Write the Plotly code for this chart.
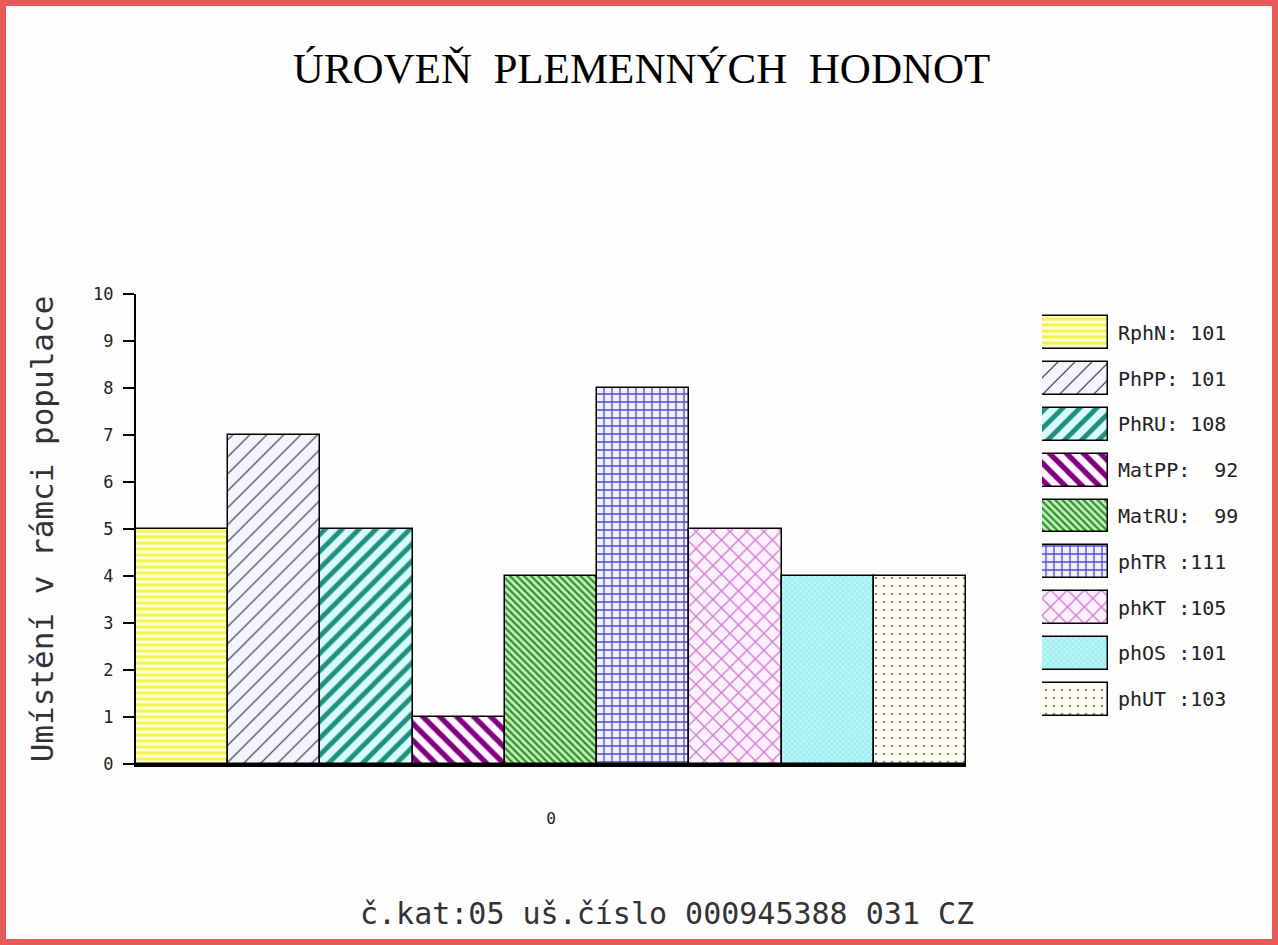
import plotly.graph_objects as go

# ---- data ----
series_names = ["RphN", "PhPP", "PhRU", "MatPP", "MatRU", "phTR", "phKT", "phOS", "phUT"]
legend_labels = ["RphN: 101", "PhPP: 101", "PhRU: 108", "MatPP:  92", "MatRU:  99",
                 "phTR :111", "phKT :105", "phOS :101", "phUT :103"]
values = [5, 7, 5, 1, 4, 8, 5, 4, 4]
x_category = ["0"]
y_ticks = list(range(0, 11))

title_text = "ÚROVEŇ\u00a0\u00a0PLEMENNÝCH\u00a0\u00a0HODNOT"
y_title = "Umístění v rámci populace"
footer_text = "č.kat:05 uš.číslo 000945388 031 CZ"

# ---- styles ----
styles = [
    dict(shape="-", fg="#f4f450", bg="#ffffd8", size=6, sol=0.5),
    dict(shape="/", fg="#303050", bg="#f4f4fc", size=12, sol=0.1),
    dict(shape="/", fg="#1f9080", bg="#d8fafa", size=12, sol=0.4),
    dict(shape="\\", fg="#800080", bg="#fff6ff", size=12, sol=0.45),
    dict(shape="\\", fg="#2f8f2f", bg="#c4f0b8", size=5, sol=0.45),
    dict(shape="+", fg="#5050c0", bg="#eeeeff", size=8, sol=0.3),
    dict(shape="x", fg="#d080d0", bg="#fdf0fd", size=12, sol=0.22),
    dict(shape="x", fg="#c8ffff", bg="#a6eeee", size=4, sol=0.3),
    dict(shape=".", fg="#8a8a8a", bg="#fffcf2", size=8, sol=0.08),
]

mono = "DejaVu Sans Mono"
fig = go.Figure()

def marker_for(st):
    return dict(color=st["bg"], line=dict(color="black", width=1.5),
                pattern=dict(shape=st["shape"], fgcolor=st["fg"], bgcolor=st["bg"],
                             size=st["size"], solidity=st["sol"], fillmode="replace",
                             fgopacity=1))

for name, val, st in zip(series_names, values, styles):
    fig.add_trace(go.Bar(
        x=[0], y=[val], name=name, showlegend=False, hoverinfo="skip",
        marker=marker_for(st), xaxis="x", yaxis="y",
    ))

# legend boxes drawn as bars on a side axis
for lab, st in zip(legend_labels, styles):
    fig.add_trace(go.Bar(
        x=[1], y=[lab], orientation="h", base=0, width=0.72, showlegend=False,
        hoverinfo="skip", marker=marker_for(st), xaxis="x2", yaxis="y2",
    ))

L, R, T, B = 136, 30, 294, 181
W, H = 1278, 945
pw = W - L - R
ph = H - T - B

def px2x(p):
    return (p - L) / pw

def py2y(p):
    return (H - B - p) / ph

fig.update_layout(
    width=W, height=H,
    margin=dict(l=L, r=R, t=T, b=B),
    paper_bgcolor="#fdfdfd", plot_bgcolor="#fdfdfd",
    barmode="group", bargap=0, bargroupgap=0,
    title=dict(text=title_text, x=0.502, xanchor="center", y=1 - 68 / H, yanchor="middle",
               font=dict(family="Liberation Serif", size=43, color="black")),
    xaxis=dict(domain=[0, px2x(966)], range=[-0.5, 0.5], tickvals=[0], ticktext=x_category,
               showline=True, linecolor="black", linewidth=2.5, showgrid=False, zeroline=False,
               ticks="", ticklabelstandoff=38, tickfont=dict(family=mono, size=16, color="#222")),
    yaxis=dict(domain=[0, 1], range=[0, 10], tickvals=y_ticks, showline=True, linecolor="black",
               linewidth=2, showgrid=False, zeroline=False, ticks="outside", ticklen=11,
               tickwidth=1.5, tickcolor="black", ticklabelstandoff=6,
               tickfont=dict(family=mono, size=17, color="#222"),
               title=dict(text=y_title, standoff=30, font=dict(family=mono, size=31, color="#333"))),
    xaxis2=dict(domain=[px2x(1042), px2x(1108)], range=[0, 1], visible=False, anchor="y2"),
    yaxis2=dict(domain=[py2y(722), py2y(310)], type="category", categoryorder="array",
                categoryarray=legend_labels, autorange="reversed", anchor="x2", side="right",
                showline=False, showgrid=False, zeroline=False, ticks="", ticklabelstandoff=9,
                tickfont=dict(family=mono, size=20, color="#222")),
    annotations=[dict(text=footer_text, xref="paper", yref="paper", x=px2x(667), y=py2y(913),
                      xanchor="center", yanchor="middle", showarrow=False,
                      font=dict(family=mono, size=30, color="#333"))],
    shapes=[dict(type="rect", xref="paper", yref="paper",
                 x0=px2x(3), x1=px2x(W - 3), y0=py2y(H - 3), y1=py2y(3),
                 line=dict(color="#e85a5a", width=6), fillcolor="rgba(0,0,0,0)", layer="above")],
)

fig.write_html("out.html", config={"displayModeBar": False},
               post_script="document.body.style.margin='0';")
